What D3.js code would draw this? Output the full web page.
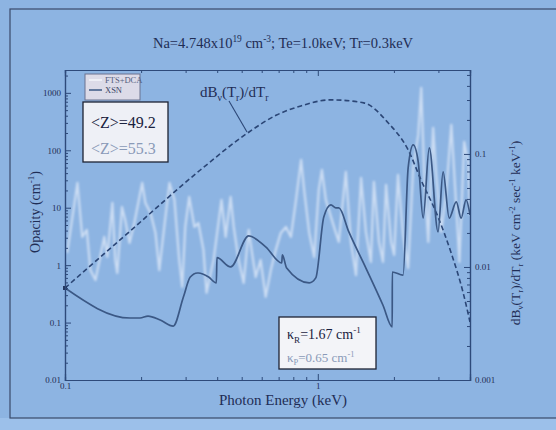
<!DOCTYPE html>
<html><head><meta charset="utf-8">
<script src="https://cdn.jsdelivr.net/npm/d3@7"></script>
<style>body{margin:0;background:#8db4e2;} svg{display:block}</style>
</head><body>
<svg id="c" width="556" height="430"></svg>
<script>
// ---- data ----
const ftsEnergy = [0.102,0.112,0.117,0.122,0.126,0.132,0.143,0.147,0.154,0.158,0.161,0.168,0.173,0.180,0.188,0.197,0.202,0.208,0.218,0.228,0.236,0.247,0.259,0.271,0.283,0.291,0.299,0.310,0.325,0.337,0.353,0.363,0.387,0.416,0.432,0.452,0.465,0.486,0.509,0.533,0.547,0.568,0.594,0.622,0.652,0.682,0.714,0.748,0.783,0.820,0.859,0.883,0.925,0.968,1.009,1.038,1.076,1.127,1.179,1.211,1.291,1.352,1.416,1.483,1.550,1.622,1.667,1.746,1.811,1.862,1.950,2.004,2.076,2.174,2.277,2.384,2.496,2.565,2.636,2.735,2.859,2.940,3.077,3.222,3.374,3.532,3.631,3.794,3.938,4.0];
const ftsOpacity = [1.63,27.0,3.10,4.10,0.82,0.55,3.10,1.39,12.1,1.23,0.73,10.3,6.12,2.44,5.43,15.4,27.0,12.1,8.11,3.64,0.82,4.63,27.0,13.7,1.23,0.42,4.63,15.4,4.63,5.43,1.84,0.33,1.23,13.7,3.10,15.4,4.63,1.23,0.49,4.10,1.84,0.62,1.23,0.28,0.82,1.84,3.64,4.63,3.10,13.7,68.0,20.4,3.64,1.39,20.4,45.6,13.7,6.91,3.64,2.54,42.0,2.54,0.67,33.0,3.79,1.14,28.1,2.54,1.14,25.0,2.54,1.51,37.3,3.36,0.89,49.3,185,1222,37.3,2.54,246,37.3,3.79,18.8,277,9.93,1.14,140,62.8,7.49];

const xsnEnergy = [0.1,0.181,0.198,0.213,0.238,0.268,0.294,0.313,0.334,0.337,0.370,0.397,0.399,0.452,0.533,0.622,0.720,0.724,0.753,0.925,0.982,1.056,1.127,1.179,1.211,1.327,1.55,1.811,1.97,1.971,2.174,2.277,2.384,2.496,2.61,2.76,2.99,3.13,3.31,3.53,3.69,3.86,4.0];
const xsnOpacity = [0.40,0.12,0.12,0.13,0.111,0.087,0.279,0.62,0.73,0.73,0.62,0.49,1.35,0.93,3.23,2.08,1.09,1.51,0.89,0.49,0.60,6.9,11.2,9.9,9.9,3.79,0.89,0.20,0.084,0.76,0.67,49.3,124,62.8,6.6,110,3.79,42,6.6,12.6,6.6,13.7,7.5];

const dbdtEnergy = [0.1,0.181,0.343,0.527,0.687,0.857,1.127,1.52,1.90,2.28,2.56,2.99,3.37,3.76,4.0];
const dbdtValue  = [0.00651,0.0208,0.0721,0.153,0.221,0.266,0.301,0.283,0.188,0.108,0.0589,0.0277,0.0133,0.00589,0.00326];

const leftTicks = [0.01,0.1,1,10,100,1000];
const leftTickLabels = ["0.01","0.1","1","10","100","1000"];
const rightTicks = [0.001,0.01,0.1];
const rightTickLabels = ["0.001","0.01","0.1"];
const bottomTicks = [0.1,1];
const bottomTickLabels = ["0.1","1"];

// ---- drawing ----
const svg = d3.select("#c");
const serif = "'Liberation Serif','Times New Roman',serif";
const ink = "#1f2d55";
const axisCol = "#2e4a7a";

svg.append("rect").attr("x",0).attr("y",0).attr("width",556).attr("height",430).attr("fill","#8db4e2");
svg.append("rect").attr("x",0).attr("y",418).attr("width",556).attr("height",12).attr("fill","#9cc0ea");
svg.append("rect").attr("x",10).attr("y",9).attr("width",560).attr("height",409)
  .attr("fill","none").attr("stroke","#3a4a6a").attr("stroke-width",1.2);

const x = d3.scaleLog().domain([0.1,4]).range([65,470]);
const yL = d3.scaleLog().domain([0.01,2500]).range([380,70]);
const yR = d3.scaleLog().domain([0.001,0.553]).range([380,70]);

const defs = svg.append("defs");
defs.append("filter").attr("id","blur").append("feGaussianBlur").attr("stdDeviation",0.9);
defs.append("clipPath").attr("id","clip").append("rect").attr("x",65).attr("y",70).attr("width",405).attr("height",310);

const plot = svg.append("g").attr("clip-path","url(#clip)");

plot.append("path")
  .datum(ftsEnergy.map((e,i)=>[e,ftsOpacity[i]]))
  .attr("d", d3.line().x(d=>x(d[0])).y(d=>yL(d[1])))
  .attr("fill","none").attr("stroke","#f2f6fd").attr("stroke-width",2.2)
  .attr("stroke-opacity",0.62).attr("stroke-linejoin","round").attr("filter","url(#blur)");

plot.append("path")
  .datum(dbdtEnergy.map((e,i)=>[e,dbdtValue[i]]))
  .attr("d", d3.line().x(d=>x(d[0])).y(d=>yR(d[1])).curve(d3.curveMonotoneX))
  .attr("fill","none").attr("stroke","#2b4676").attr("stroke-width",1.6)
  .attr("stroke-dasharray","5,3");

plot.append("path")
  .datum(xsnEnergy.map((e,i)=>[e,xsnOpacity[i]]))
  .attr("d", d3.line().x(d=>x(d[0])).y(d=>yL(d[1])).curve(d3.curveMonotoneX))
  .attr("fill","none").attr("stroke","#3b5885").attr("stroke-width",1.7).attr("stroke-linejoin","round");

svg.append("rect").attr("x",x(0.1)-2).attr("y",yL(0.40)-2).attr("width",4).attr("height",4).attr("fill","#24375f");

function minorLog(lo,hi){const out=[];for(let p=Math.floor(Math.log10(lo));p<=Math.ceil(Math.log10(hi));p++){for(let m=2;m<=9;m++){const v=m*Math.pow(10,p);if(v>lo&&v<hi)out.push(v);}}return out;}
function styleAxis(g){g.select(".domain").attr("stroke",axisCol).attr("stroke-width",1.2);
  g.selectAll(".tick line").attr("stroke",axisCol).attr("stroke-width",1);
  g.selectAll("text").attr("fill",ink).attr("font-family",serif).attr("font-size",9);}

const gl = svg.append("g").attr("transform","translate(65,0)")
  .call(d3.axisLeft(yL).tickValues(leftTicks).tickSize(-6).tickPadding(4).tickFormat((d,i)=>leftTickLabels[i]));
styleAxis(gl);
const glm = svg.append("g").attr("transform","translate(65,0)")
  .call(d3.axisLeft(yL).tickValues(minorLog(0.01,2500)).tickSize(-3).tickFormat(""));
styleAxis(glm);

const gr = svg.append("g").attr("transform","translate(470,0)")
  .call(d3.axisRight(yR).tickValues(rightTicks).tickSize(-6).tickPadding(5).tickFormat((d,i)=>rightTickLabels[i]));
styleAxis(gr);
const grm = svg.append("g").attr("transform","translate(470,0)")
  .call(d3.axisRight(yR).tickValues(minorLog(0.001,0.553)).tickSize(-3).tickFormat(""));
styleAxis(grm);

const gb = svg.append("g").attr("transform","translate(0,380)")
  .call(d3.axisBottom(x).tickValues(bottomTicks).tickSize(-6).tickPadding(3).tickFormat((d,i)=>bottomTickLabels[i]));
styleAxis(gb);
const gbm = svg.append("g").attr("transform","translate(0,380)")
  .call(d3.axisBottom(x).tickValues(minorLog(0.1,4)).tickSize(-3).tickFormat(""));
styleAxis(gbm);

const gt = svg.append("g").attr("transform","translate(0,70)")
  .call(d3.axisTop(x).tickValues(bottomTicks).tickSize(-6).tickFormat(""));
styleAxis(gt);
const gtm = svg.append("g").attr("transform","translate(0,70)")
  .call(d3.axisTop(x).tickValues(minorLog(0.1,4)).tickSize(-3).tickFormat(""));
styleAxis(gtm);

function txt(xp,yp,size,col,anchor){return svg.append("text").attr("x",xp).attr("y",yp)
  .attr("font-family",serif).attr("font-size",size).attr("fill",col).attr("text-anchor",anchor||"start");}
function sup(t,s,size){t.append("tspan").attr("dy",-size*0.4).attr("font-size",size*0.65).text(s);
  return t.append("tspan").attr("dy",size*0.4);}
function sub(t,s,size){t.append("tspan").attr("dy",size*0.25).attr("font-size",size*0.65).text(s);
  return t.append("tspan").attr("dy",-size*0.25);}

{const s=14.5; const t=txt(283,48,s,ink,"middle");
 t.append("tspan").text("Na=4.748x10");
 sup(t,"19",s).text(" cm");
 sup(t,"-3",s).text("; Te=1.0keV; Tr=0.3keV");}

txt(283,405,15,ink,"middle").text("Photon Energy (keV)");

{const s=14; const t=svg.append("text").attr("transform","translate(40,212) rotate(-90)")
  .attr("font-family",serif).attr("font-size",s).attr("fill",ink).attr("text-anchor","middle");
 t.append("tspan").text("Opacity (cm");
 sup(t,"-1",s).text(")");}

{const s=13.5; const t=svg.append("text").attr("transform","translate(520,233) rotate(-90)")
  .attr("font-family",serif).attr("font-size",s).attr("fill",ink).attr("text-anchor","middle");
 t.append("tspan").text("dB");
 sub(t,"ν",s).text("(T");
 sub(t,"r",s).text(")/dT");
 sub(t,"r",s).text(" (keV cm");
 sup(t,"-2",s).text(" sec");
 sup(t,"-1",s).text(" keV");
 sup(t,"-1",s).text(")");}

{const s=15; const t=txt(200,97,s,ink);
 t.append("tspan").text("dB");
 sub(t,"ν",s).text("(T");
 sub(t,"r",s).text(")/dT");
 sub(t,"r",s);}
svg.append("line").attr("x1",229).attr("y1",101).attr("x2",247).attr("y2",132)
  .attr("stroke","#2b4676").attr("stroke-width",1.1);

svg.append("rect").attr("x",85).attr("y",74).attr("width",55).attr("height",26)
  .attr("fill","#dcdbe8").attr("stroke","#6a7290").attr("stroke-width",1);
svg.append("line").attr("x1",89).attr("x2",102).attr("y1",80).attr("y2",80).attr("stroke","#f4f6fb").attr("stroke-width",1.5);
svg.append("line").attr("x1",89).attr("x2",102).attr("y1",90).attr("y2",90).attr("stroke","#3b5885").attr("stroke-width",1.5);
txt(105,83,8.5,"#55607e").text("FTS+DCA");
txt(105,93,8.5,"#3a4566").text("XSN");

svg.append("rect").attr("x",83).attr("y",102).attr("width",85).attr("height",60)
  .attr("fill","#eef0f6").attr("stroke","#1d2233").attr("stroke-width",1.3);
txt(91,128,16,"#1a2240").text("<Z>=49.2");
txt(91,154,16,"#8a9ab8").text("<Z>=55.3");

svg.append("rect").attr("x",279).attr("y",317).attr("width",97).attr("height",52)
  .attr("fill","#f3f4f8").attr("stroke","#1d2233").attr("stroke-width",1.3);
{const s=14; const t=txt(287,339,s,"#1a2240");
 t.append("tspan").text("κ");
 sub(t,"R",s).text("=1.67 cm");
 sup(t,"-1",s);}
{const s=13; const t=txt(287,362,s,"#8a9ab8");
 t.append("tspan").text("κ");
 sub(t,"P",s).text("=0.65 cm");
 sup(t,"-1",s);}
</script>
</body></html>
